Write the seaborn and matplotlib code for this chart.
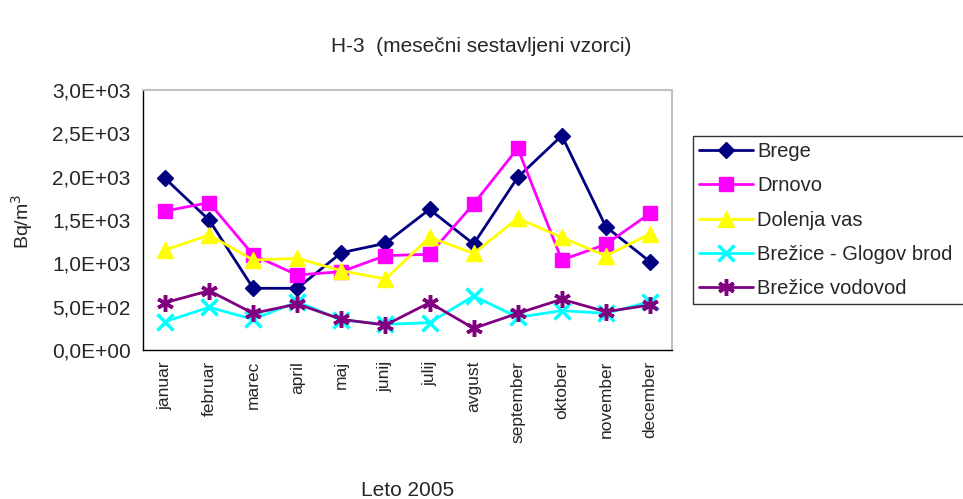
import numpy as np
import pandas as pd
import matplotlib
matplotlib.use("Agg")
import matplotlib.pyplot as plt
from matplotlib.ticker import FuncFormatter, FixedLocator
import seaborn as sns

# podatki / data
meseci = ["januar", "februar", "marec", "april", "maj", "junij",
          "julij", "avgust", "september", "oktober", "november", "december"]
brege = [1980, 1500, 712, 712, 1123, 1231, 1623, 1223, 1992, 2473, 1423, 1019]
drnovo = [1604, 1700, 1096, 865, 904, 1089, 1104, 1685, 2327, 1038, 1219, 1577]
dolenja_vas = [1154, 1327, 1038, 1058, 915, 819, 1300, 1115, 1519, 1300, 1085, 1339]
glogov_brod = [327, 493, 354, 557, 346, 296, 315, 623, 377, 454, 423, 557]
vodovod = [546, 684, 423, 531, 354, 288, 546, 250, 423, 585, 442, 519]

serije = {
    "Brege": brege,
    "Drnovo": drnovo,
    "Dolenja vas": dolenja_vas,
    "Brežice - Glogov brod": glogov_brod,
    "Brežice vodovod": vodovod,
}
barve = ["#000080", "#FF00FF", "#FFFF00", "#00FFFF", "#800080"]
markerji = ["D", "s", "^", "x", (6, 2, 0)]
velikosti = [8, 10, 11, 11, 12]
robovi = [1, 1, 1, 2.5, 2.5]

sns.set_style("white")
plt.rcParams["font.family"] = ["Liberation Sans", "DejaVu Sans"]

fig = plt.figure(figsize=(9.63, 4.99), dpi=100)
ax = fig.add_axes([143 / 963, 1 - 350 / 499, 529 / 963, 260 / 499])

for (ime, vals), c, m, ms, mew in zip(serije.items(), barve, markerji, velikosti, robovi):
    sns.lineplot(x=meseci, y=vals, ax=ax, color=c, marker=m, markersize=ms,
                 markeredgecolor=c, markerfacecolor=c, markeredgewidth=mew,
                 linewidth=2, label=ime, sort=False)

ax.set_xlim(-0.5, 11.5)
ax.set_ylim(0, 3000)
ax.set_yticks(np.arange(0, 3001, 500))
ax.yaxis.set_major_formatter(FuncFormatter(
    lambda v, p: ("%.1E" % v).replace(".", ",")))
ax.set_xticks(range(12))
ax.set_xticklabels(meseci, rotation=90)
ax.xaxis.set_minor_locator(FixedLocator(np.arange(-0.5, 12, 1)))
ax.tick_params(axis="x", which="major", length=0, pad=8, labelsize=12.5)
ax.tick_params(axis="x", which="minor", length=5, width=1, color="black", direction="out")
ax.tick_params(axis="y", length=5, width=1, color="black", direction="out", labelsize=15, pad=4)
ax.set_xlabel("")
ax.set_ylabel("")

for s in ["left", "bottom"]:
    ax.spines[s].set_color("black")
    ax.spines[s].set_linewidth(1)
for s in ["top", "right"]:
    ax.spines[s].set_color("#C0C0C0")
    ax.spines[s].set_linewidth(1.5)

# legenda sega čez desni rob slike, kot v izvirniku
leg = ax.legend(loc="upper left", bbox_to_anchor=(693 / 963, 1 - 136 / 499, 0.32, 0),
                bbox_transform=fig.transFigure, mode="expand", fontsize=14.5, frameon=True,
                fancybox=False, edgecolor="black", borderaxespad=0,
                handlelength=2.7, handletextpad=0.2, labelspacing=0.76, borderpad=0.3)
leg.get_frame().set_linewidth(1)

fig.text(0.5, 1 - 47 / 499, "H-3  (mesečni sestavljeni vzorci)", ha="center", va="center", fontsize=15)
fig.text(407.5 / 963, 1 - 490 / 499, "Leto 2005", ha="center", va="center", fontsize=15)
fig.text(22 / 963, 1 - 221 / 499, "Bq/m$^3$", ha="center", va="center", rotation=90, fontsize=14)

fig.savefig("out.png", dpi=100)
